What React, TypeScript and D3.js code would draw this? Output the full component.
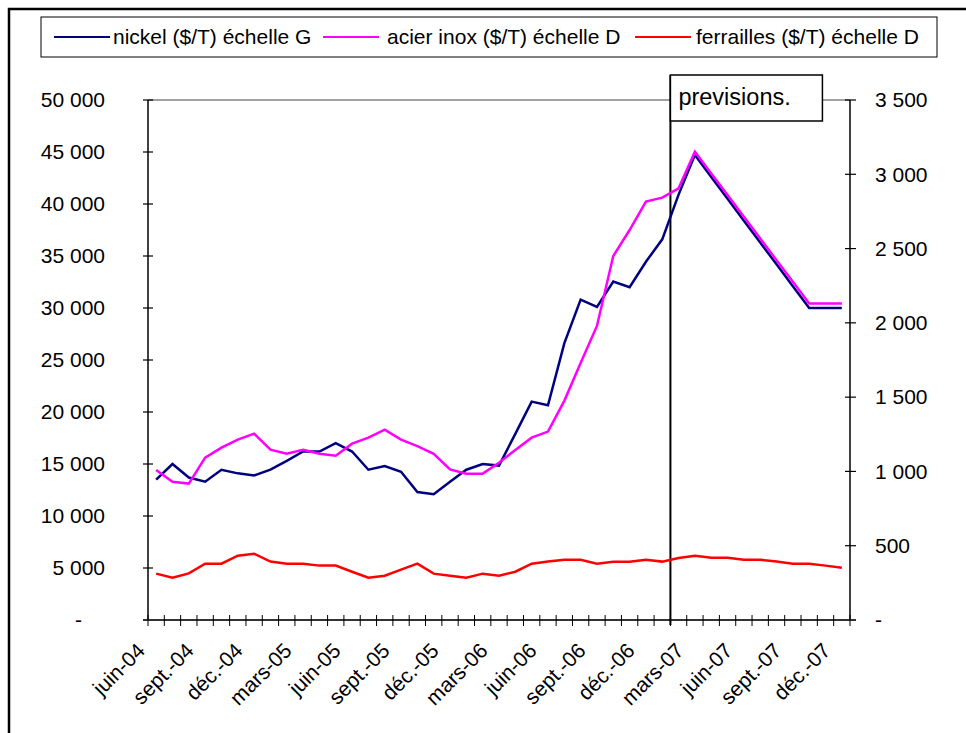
import React from "react";
import * as d3 from "d3";

const categories = [
  "juin-04","juil.-04","août-04","sept.-04","oct.-04","nov.-04","déc.-04",
  "janv.-05","févr.-05","mars-05","avr.-05","mai-05","juin-05","juil.-05","août-05","sept.-05","oct.-05","nov.-05","déc.-05",
  "janv.-06","févr.-06","mars-06","avr.-06","mai-06","juin-06","juil.-06","août-06","sept.-06","oct.-06","nov.-06","déc.-06",
  "janv.-07","févr.-07","mars-07","avr.-07","mai-07","juin-07","juil.-07","août-07","sept.-07","oct.-07","nov.-07","déc.-07",
];

const nickel = [
  13500, 15000, 13700, 13300, 14450, 14100, 13900, 14450, 15300, 16200, 16200, 17000, 16200, 14450, 14800, 14250,
  12300, 12100, 13300, 14450, 15000, 14850, 17900, 21000, 20650, 26600, 30800, 30100, 32550, 32000, 34450, 36600,
  40900, 44700, 42600, 40500, 38400, 36300, 34200, 32100, 30000, 30000, 30000,
];

const acierInox = [
  1010, 930, 918, 1093, 1160, 1214, 1254, 1146, 1119, 1146, 1119, 1106, 1187, 1227, 1281, 1214,
  1170, 1119, 1014, 985, 985, 1059, 1144, 1227, 1268, 1475, 1730, 1979, 2450, 2625, 2816, 2843,
  2906, 3152, 3006, 2860, 2714, 2568, 2422, 2276, 2130, 2130, 2130,
];

const ferrailles = [
  312, 285, 314, 379, 379, 433, 446, 393, 379, 379, 366, 366, 325, 285, 298, 339,
  379, 312, 298, 285, 312, 298, 325, 379, 393, 406, 406, 379, 392, 392, 406, 393,
  417, 433, 419, 419, 406, 406, 393, 379, 379, 366, 352,
];

const leftTicks = [0, 5000, 10000, 15000, 20000, 25000, 30000, 35000, 40000, 45000, 50000];
const rightTicks = [0, 500, 1000, 1500, 2000, 2500, 3000, 3500];

const seriesNames = ["nickel ($/T) échelle G", "acier inox ($/T) échelle D", "ferrailles ($/T) échelle D"];
const seriesColors = ["#000080", "#FF00FF", "#FF0000"];
const forecastStart = "févr.-07";
const forecastLabel = "previsions.";

const FONT = "'Liberation Sans', Arial, sans-serif";

const fmt = d3.formatLocale({ decimal: ",", thousands: " ", grouping: [3], currency: ["", ""] }).format(",");
const tickText = (v: number) => (v === 0 ? "-" : fmt(v));

export default function App() {
  const W = 966, H = 733;
  const left = 148, right = 850, top = 100, bottom = 620;

  const x = d3.scaleBand<string>().domain(categories).range([left, right]).padding(0);
  const yL = d3.scaleLinear().domain([0, 50000]).range([bottom, top]);
  const yR = d3.scaleLinear().domain([0, 3500]).range([bottom, top]);
  const cx = (i: number) => (x(categories[i]) as number) + x.bandwidth() / 2;

  const lineL = d3.line<number>().x((_, i) => cx(i)).y((d) => yL(d));
  const lineR = d3.line<number>().x((_, i) => cx(i)).y((d) => yR(d));

  const forecastX = x(forecastStart) as number;
  const boundaries = d3.range(categories.length + 1).map((i) => left + i * x.bandwidth());

  const legendItems = [
    { name: seriesNames[0], color: seriesColors[0], lx: 54, tx: 113 },
    { name: seriesNames[1], color: seriesColors[1], lx: 323, tx: 387 },
    { name: seriesNames[2], color: seriesColors[2], lx: 635, tx: 696 },
  ];

  return (
    <svg width={W} height={H} style={{ position: "absolute", left: 0, top: 0, background: "#fff" }} fontFamily={FONT}>
      <rect x={0} y={0} width={W} height={H} fill="#fff" />
      {/* outer frame */}
      <path d={`M9,${H} L9,9 L${W},9`} fill="none" stroke="#000" strokeWidth={2.5} />

      {/* legend */}
      <rect x={41} y={17} width={896} height={40} fill="#fff" stroke="#000" strokeWidth={1} />
      {legendItems.map((it) => (
        <g key={it.name}>
          <line x1={it.lx} x2={it.lx + 56} y1={37} y2={37} stroke={it.color} strokeWidth={2} />
          <text x={it.tx} y={37} dy="0.35em" fontSize={21} fill="#000">{it.name}</text>
        </g>
      ))}

      {/* plot top border */}
      <line x1={left} x2={right} y1={top} y2={top} stroke="#808080" strokeWidth={1.5} />

      {/* left axis */}
      <line x1={left} x2={left} y1={top} y2={bottom} stroke="#000" strokeWidth={1.5} />
      {leftTicks.map((t) => (
        <g key={"l" + t}>
          <line x1={left - 5} x2={left + 5} y1={yL(t)} y2={yL(t)} stroke="#000" strokeWidth={1.2} />
          <text x={t === 0 ? 82 : 105} y={yL(t)} dy="0.35em" textAnchor="end" fontSize={21} fill="#000">{tickText(t)}</text>
        </g>
      ))}

      {/* right axis */}
      <line x1={right} x2={right} y1={top} y2={bottom} stroke="#000" strokeWidth={1.5} />
      {rightTicks.map((t) => (
        <g key={"r" + t}>
          <line x1={right - 5} x2={right + 6} y1={yR(t)} y2={yR(t)} stroke="#000" strokeWidth={1.2} />
          <text x={875} y={yR(t)} dy="0.35em" textAnchor="start" fontSize={21} fill="#000">{tickText(t)}</text>
        </g>
      ))}

      {/* x axis */}
      <line x1={left - 5} x2={right + 6} y1={bottom} y2={bottom} stroke="#333" strokeWidth={2} />
      {boundaries.map((b, i) => (
        <line key={"b" + i} x1={b} x2={b} y1={bottom - 5} y2={bottom + 6} stroke="#000" strokeWidth={1} />
      ))}
      {categories.map((c, i) =>
        i % 3 === 0 ? (
          <text
            key={"c" + i}
            transform={`translate(${cx(i) - 10},${bottom + 32}) rotate(-45)`}
            textAnchor="end"
            fontSize={21}
            fill="#000"
          >
            {c}
          </text>
        ) : null
      )}

      {/* forecast marker */}
      <line x1={forecastX} x2={forecastX} y1={75} y2={bottom + 5} stroke="#000" strokeWidth={2} />
      <rect x={forecastX} y={75} width={152} height={46} fill="#fff" stroke="#000" strokeWidth={1.5} />
      <text x={forecastX + 8} y={105} fontSize={23.5} fill="#000">{forecastLabel}</text>

      {/* series */}
      <path d={lineL(nickel) || ""} fill="none" stroke={seriesColors[0]} strokeWidth={2.5} strokeLinejoin="miter" />
      <path d={lineR(acierInox) || ""} fill="none" stroke={seriesColors[1]} strokeWidth={2.5} strokeLinejoin="miter" />
      <path d={lineR(ferrailles) || ""} fill="none" stroke={seriesColors[2]} strokeWidth={2.5} strokeLinejoin="miter" />
    </svg>
  );
}
